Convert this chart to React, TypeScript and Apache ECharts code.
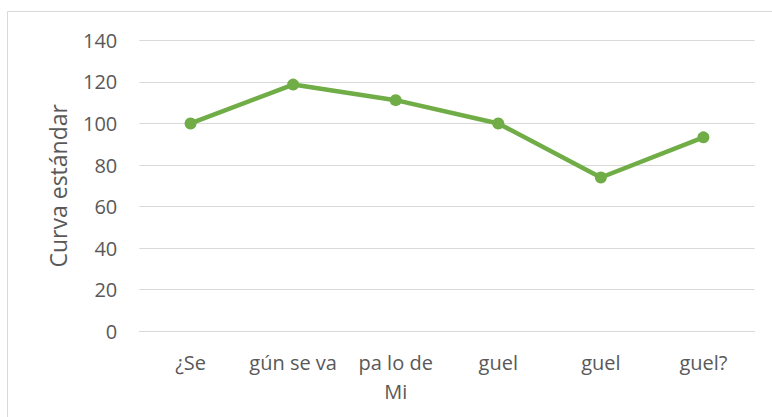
import React, { useEffect, useRef } from "react";
import * as echarts from "echarts";

const categories = ["¿Se", "gún se va", "pa lo de\nMi", "guel", "guel", "guel?"];
const values = [100, 118.7, 111.2, 100, 74, 93.3];
const yTicks = { min: 0, max: 140, interval: 20 };
const yAxisTitle = "Curva estándar";

export default function App() {
  const ref = useRef<HTMLDivElement>(null);
  useEffect(() => {
    if (!ref.current) return;
    const chart = echarts.init(ref.current, null, { renderer: "svg" });
    const font = "'Open Sans', sans-serif";
    chart.setOption({
      animation: false,
      backgroundColor: "#ffffff",
      graphic: [
        {
          type: "rect",
          shape: { x: 7.5, y: 11.5, width: 800, height: 420 },
          style: { fill: "none", stroke: "#d9d9d9", lineWidth: 1 },
          silent: true,
        },
      ],
      grid: { left: 139.3, right: 17.3, top: 40.3, bottom: 85.7 },
      xAxis: {
        type: "category",
        data: categories,
        boundaryGap: true,
        axisLine: { show: true, lineStyle: { color: "#d9d9d9", width: 1 } },
        axisTick: { show: false },
        axisLabel: {
          color: "#595959",
          fontFamily: font,
          fontSize: 20,
          lineHeight: 29,
          margin: 17,
          interval: 0,
        },
      },
      yAxis: {
        type: "value",
        min: yTicks.min,
        max: yTicks.max,
        interval: yTicks.interval,
        name: yAxisTitle,
        nameLocation: "middle",
        nameGap: 70,
        nameTextStyle: { color: "#595959", fontFamily: font, fontSize: 23 },
        axisLine: { show: false },
        axisTick: { show: false },
        splitLine: { lineStyle: { color: "#d9d9d9", width: 1 } },
        axisLabel: {
          color: "#595959",
          fontFamily: font,
          fontSize: 20,
          margin: 22,
        },
      },
      series: [
        {
          type: "line",
          data: values,
          symbol: "circle",
          symbolSize: 12,
          lineStyle: { color: "#70ad47", width: 4.5 },
          itemStyle: { color: "#70ad47" },
        },
      ],
    });
    return () => chart.dispose();
  }, []);
  return (
    <div
      ref={ref}
      style={{ position: "absolute", left: 0, top: 0, width: 772, height: 417 }}
    />
  );
}
